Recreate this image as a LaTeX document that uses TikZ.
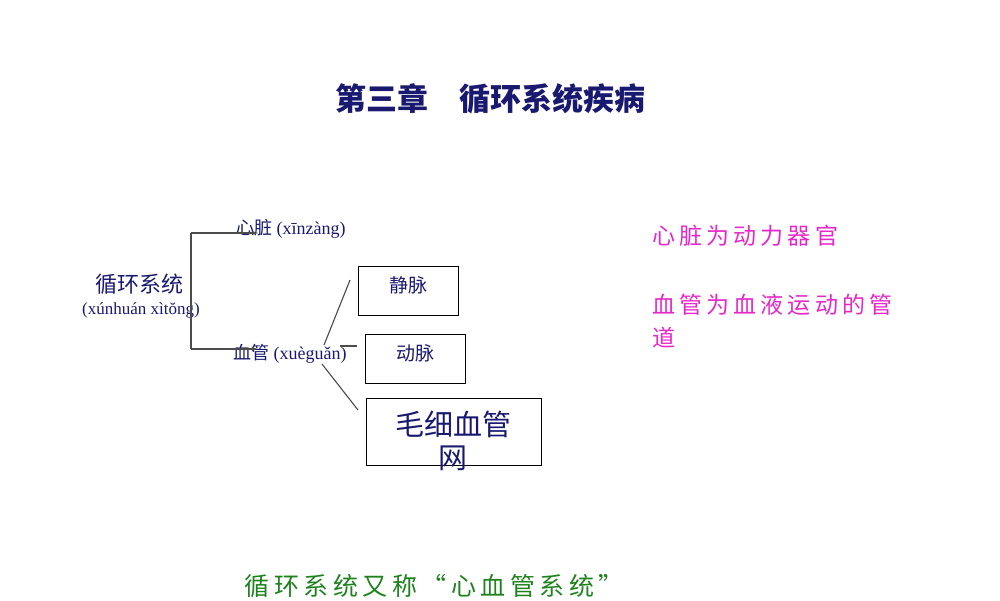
\documentclass[tikz,border=0pt]{standalone}
\usepackage{fontspec}
\setmainfont{Liberation Serif}
\newfontfamily\cjk{Noto Sans CJK SC}
\newfontfamily\cjkw[LetterSpace=18]{Noto Sans CJK SC}
\definecolor{navy}{RGB}{25,25,112}
\definecolor{pink}{RGB}{230,40,200}
\definecolor{grn}{RGB}{30,130,30}
\begin{document}
\begin{tikzpicture}[x=1pt,y=-1pt,
  lab/.style={inner sep=0,text=navy,font=\fontsize{18}{20}\selectfont},
  box/.style={draw,line width=1.1pt,inner sep=0,anchor=north west,text=navy},
  ln/.style={draw=black!70,line width=1.1pt}]
\useasboundingbox (0,0) rectangle (1000,600);
\node[inner sep=0,text=navy] (t) at (490,99) {\cjk\bfseries\fontsize{31}{35}\selectfont 第三章\quad 循环系统疾病};
\node[inner sep=0,text=navy,font=\cjk\fontsize{22}{24}\selectfont] (root) at (139,284) {循环系统};
\node[inner sep=0,text=navy,font=\fontsize{17}{19}\selectfont] (rootpy) at (141,310) {(xúnhuán xìtŏng)};
\node[lab,anchor=west] (xz) at (236,229) {{\cjk 心脏} (xīnzàng)};
\node[lab,anchor=west] (xg) at (233,354) {{\cjk 血管} (xuèguǎn)};
\coordinate (b1) at (191,233);
\coordinate (b2) at (191,349);
\draw[ln,-latex] (b1) -- (258,233);
\draw[ln,-latex] (b2) -- (258,349);
\draw[ln] (b1) -- (b2);
\node[box,minimum width=100,minimum height=49] (jm) at (358,266) {};
\node[lab,font=\cjk\fontsize{19}{21}\selectfont] at (408,285) {静脉};
\node[box,minimum width=100,minimum height=49] (dm) at (365,334) {};
\node[lab,font=\cjk\fontsize{19}{21}\selectfont] at (415,353) {动脉};
\node[box,minimum width=175,minimum height=67] (mx) at (366,398) {};
\node[lab,font=\cjk\fontsize{29}{33}\selectfont,align=center] at (453,441) {毛细血管\\网};
\coordinate (j1) at (324,345);
\coordinate (j2) at (322,364);
\draw[ln] (j1) -- (350,280);
\draw[ln] (j2) -- (358,410);
\draw[ln] (340,346) -- (357,346);
\node[inner sep=0,anchor=west,text=pink,font=\cjkw\fontsize{23}{26}\selectfont] (p1) at (652,236) {心脏为动力器官};
\node[inner sep=0,anchor=north west,text=pink,align=left,font=\cjkw\fontsize{23}{33}\selectfont] (p2) at (652,294) {血管为血液运动的管\\道};
\node[inner sep=0,text=grn,font=\cjkw\fontsize{25}{28}\selectfont] (g) at (434,586) {循环系统又称“心血管系统”};
\end{tikzpicture}
\end{document}
